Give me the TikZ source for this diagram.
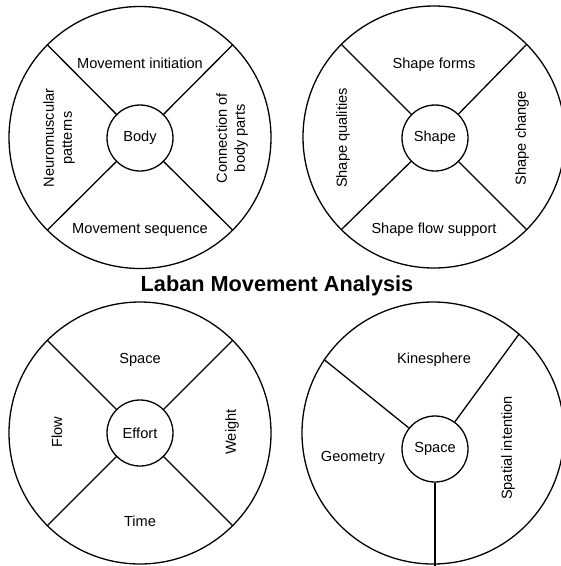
\documentclass[tikz,border=0pt]{standalone}
\usepackage{fontspec}
\setmainfont{Liberation Sans}
\tikzset{
  ring/.style={circle,draw,line width=1.3pt,minimum size=262pt,inner sep=0pt},
  hub/.style={circle,draw,line width=1.3pt,minimum size=66pt,inner sep=0pt,
    font=\fontsize{14.6}{17}\selectfont},
  part/.style={align=center,inner sep=0pt,text height=10.5pt,text depth=0pt,
    font=\fontsize{14.6}{17}\selectfont},
  vpart/.style={align=center,inner sep=0pt,rotate=90,
    font=\fontsize{14.6}{18}\selectfont},
  spoke/.style={line width=1.3pt}
}

\begin{document}
\begin{tikzpicture}[x=1pt,y=-1pt]
    \useasboundingbox (0,0) rectangle (561,566);
    % the four wheels
    \node[ring] (bodyring) at (140,137.5) {};
    \node[ring] (shapering) at (434,137) {};
    \node[ring] (effortring) at (140,433) {};
    \node[ring] (spacering) at (433,433) {};
    \node[hub] (body) at (140,138) {Body};
    \node[hub] (shape) at (435,138) {Shape};
    \node[hub] (effort) at (140,433) {Effort};
    \node[hub] (space) at (435,449) {Space};
    \foreach \n in {body,shape,effort} {
        \foreach \a in {45,135,225,315} {
            \draw[spoke] (\n) -- (\n ring.\a);
          }}
    \draw[spoke] (space) -- (spacering.146);
    \draw[spoke] (space) -- (spacering.49);
    \draw[spoke] (space) -- ([yshift=-2pt]space |- spacering.south);
    % body
    \node[part] (initiation) at (140,63) {Movement initiation};
    \node[part] (sequence) at (140,228) {Movement sequence};
    \node[vpart] (neuro) at (59,138) {Neuromuscular\\patterns};
    \node[vpart] (connection) at (232,138) {Connection of\\body parts};
    % shape
    \node[part] (forms) at (434,63) {Shape forms};
    \node[part] (flowsupport) at (434,228) {Shape flow support};
    \node[vpart] (qualities) at (343,138) {Shape qualities};
    \node[vpart] (change) at (522,138) {Shape change};
    % effort
    \node[part] (espace) at (140,358) {Space};
    \node[part] (time) at (140,521) {Time};
    \node[vpart] (flow) at (57,432) {Flow};
    \node[vpart] (weight) at (232,432) {Weight};
    % space
    \node[part] (kinesphere) at (434,358) {Kinesphere};
    \node[part] (geometry) at (353,456) {Geometry};
    \node[vpart] (intention) at (508,448) {Spatial intention};
    \node[font=\fontsize{21.7}{24}\selectfont\bfseries] (title) at (277,286) {Laban Movement Analysis};
  \end{tikzpicture}
\end{document}
